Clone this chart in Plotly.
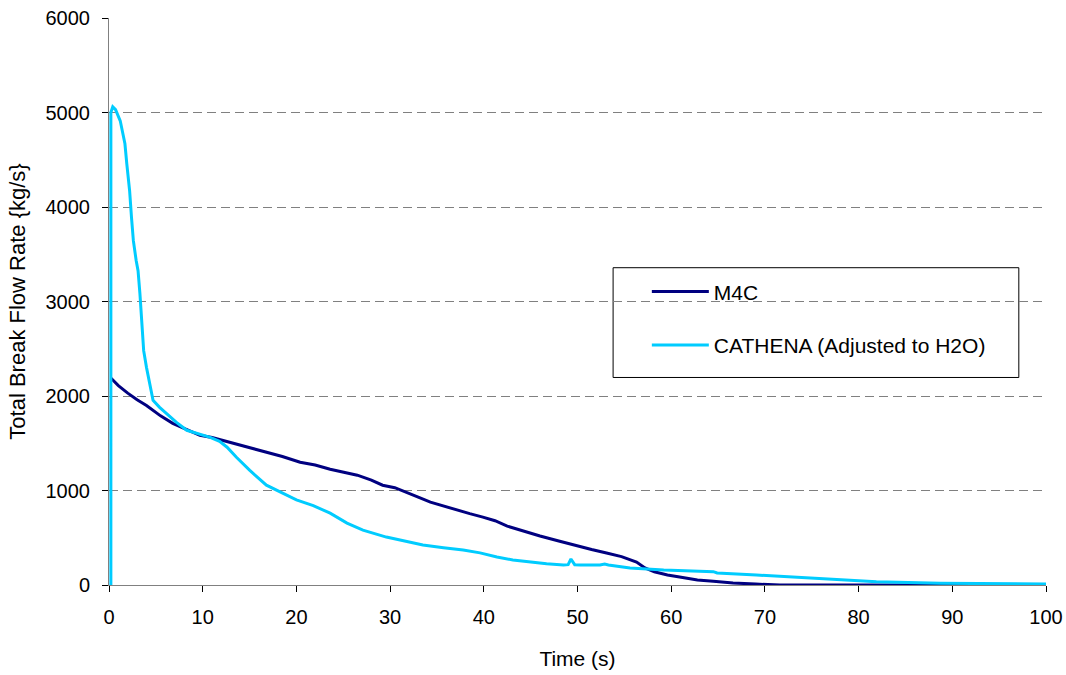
import plotly.graph_objects as go

# Data
m4c_t = [0.2, 1, 2, 3, 4, 4.7, 5.5, 6.8, 8, 9.7, 11, 13.2, 15, 16.9, 18.5, 20.4, 22, 23.6,
         25.4, 26.5, 28, 29.2, 30.5, 31.8, 33, 34.3, 35.7, 37.1, 38.5, 39.9, 41.2, 42.5, 44,
         46, 48, 49.9, 51.5, 53.1, 54.7, 56.3, 57.2, 58.2, 59.6, 60.9, 62.8, 64.5, 66.6, 69,
         71.6, 80, 90, 100]
m4c_v = [2190, 2110, 2030, 1960, 1900, 1849, 1790, 1711, 1660, 1584, 1560, 1500, 1450, 1405,
         1360, 1299, 1270, 1225, 1183, 1162, 1110, 1056, 1030, 982, 930, 877, 835, 792, 755,
         718, 680, 623, 575, 518, 465, 412, 375, 338, 300, 243, 180, 140, 106, 85, 53, 40, 21,
         10, 0, 0, 0, 0]

cat_t = [0.2, 0.2, 0.4, 0.7, 1.2, 1.7, 1.9, 2.2, 2.4, 2.6, 2.9, 3.1, 3.3, 3.5, 3.6, 3.7, 4.0,
         4.7, 5.4, 6.1, 7.2, 8.3, 9.5, 10.8, 11.8, 12.6, 13.6, 15, 16.8, 18.4, 20, 21.8, 23.6,
         25.4, 27.1, 29.6, 31.5, 33.5, 35.7, 37.8, 39.6, 41.4, 43.1, 44.9, 46.7, 48.5, 49.0,
         49.3, 49.7, 50.3, 52.4, 52.9, 53.3, 55.6, 59.2, 64.5, 64.9, 69.1, 73.4, 77.7, 81.9,
         88.7, 100]
cat_v = [0, 5000, 5060, 5030, 4912, 4669, 4457, 4172, 3890, 3644, 3433, 3327, 3084, 2800,
         2600, 2480, 2303, 1954, 1880, 1817, 1720, 1637, 1600, 1563, 1520, 1458, 1352, 1215,
         1056, 980, 900, 840, 760, 655, 581, 507, 470, 423, 395, 370, 340, 296, 265, 243, 225,
         211, 215, 275, 215, 211, 211, 222, 211, 180, 158, 141, 127, 106, 81, 53, 35, 18, 11]

x_ticks = list(range(0, 101, 10))
y_ticks = list(range(0, 6001, 1000))

FONT = "Liberation Sans, Arial, sans-serif"

fig = go.Figure()
fig.add_trace(go.Scatter(x=m4c_t, y=m4c_v, mode="lines", name="M4C",
                         line=dict(color="#000080", width=3), legendgroup="a"))
fig.add_trace(go.Scatter(x=cat_t, y=cat_v, mode="lines", name="CATHENA (Adjusted to H2O)",
                         line=dict(color="#00CCFF", width=3), legendgroup="b"))

fig.update_layout(
    width=1066, height=675,
    margin=dict(l=109, r=20, t=18, b=90, autoexpand=False),
    paper_bgcolor="white", plot_bgcolor="white",
    font=dict(family=FONT, size=20, color="black"),
    showlegend=True,
    legend=dict(x=0.574, y=0.553, xanchor="left", yanchor="top",
                bgcolor="rgba(0,0,0,0)", borderwidth=0,
                tracegroupgap=23, traceorder="grouped",
                itemwidth=57, font=dict(family=FONT, size=21, color="black")),
    xaxis=dict(range=[0, 100], tickvals=x_ticks, showgrid=False, zeroline=False,
               showline=True, linecolor="#808080", linewidth=1,
               ticks="outside", ticklen=6, tickcolor="black",
               ticklabelstandoff=8,
               title=dict(text="Time (s)", font=dict(size=21), standoff=24),
               tickfont=dict(size=20)),
    yaxis=dict(range=[0, 6000], tickvals=y_ticks, showgrid=True, gridcolor="#808080",
               griddash="9px,5px", gridwidth=1, zeroline=False,
               showline=True, linecolor="#808080", linewidth=1,
               ticks="outside", ticklen=6, tickcolor="black",
               ticklabelstandoff=8,
               title=dict(text="Total Break Flow Rate {kg/s}", font=dict(size=22), standoff=13),
               tickfont=dict(size=20)),
    shapes=[dict(type="rect", xref="paper", yref="paper",
                 x0=0.538, x1=0.971, y0=0.366, y1=0.5596,
                 line=dict(color="black", width=1), fillcolor="white", layer="below")],
)

fig.write_html("out.html")
